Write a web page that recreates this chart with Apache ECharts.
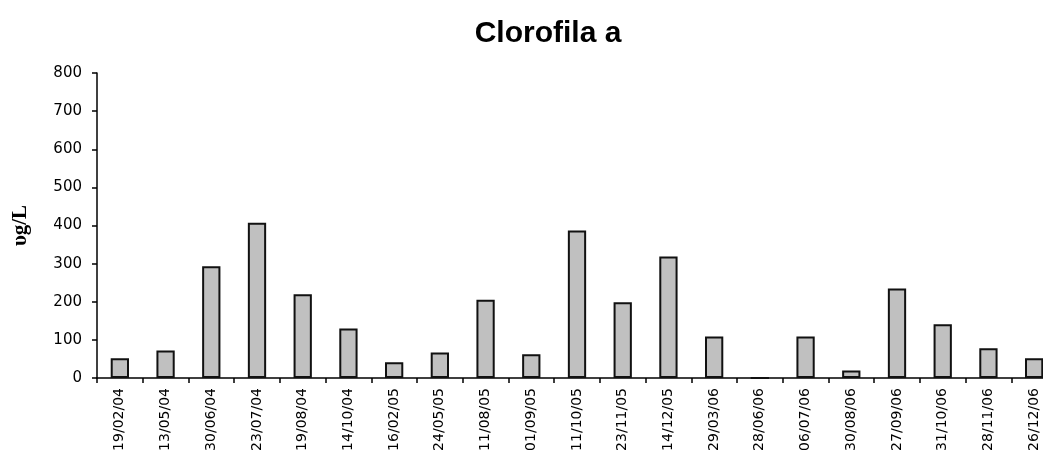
<!DOCTYPE html>
<html>
<head>
<meta charset="utf-8">
<script src="https://cdn.jsdelivr.net/npm/echarts@6/dist/echarts.min.js"></script>
<style>
html,body{margin:0;padding:0;background:#fff;overflow:hidden;width:1043px;height:459px;}
#chart{width:1060px;height:459px;}
</style>
</head>
<body>
<div id="chart"></div>
<script>
const categories = ['19/02/04','13/05/04','30/06/04','23/07/04','19/08/04','14/10/04','16/02/05','24/05/05','11/08/05','01/09/05','11/10/05','23/11/05','14/12/05','29/03/06','28/06/06','06/07/06','30/08/06','27/09/06','31/10/06','28/11/06','26/12/06'];
const clorofila = [52, 72, 293, 407, 220, 130, 41, 67, 205, 62, 387, 199, 319, 109, 0, 109, 20, 235, 141, 78, 52];
const yTicks = {min: 0, max: 800, interval: 100};

const chart = echarts.init(document.getElementById('chart'), null, {renderer: 'canvas'});
chart.setOption({
  animation: false,
  backgroundColor: '#ffffff',
  title: {
    text: 'Clorofila a',
    left: 543, top: 14, textAlign: 'center',
    textStyle: {fontFamily: 'Liberation Sans, Arial', fontWeight: 'bold', fontSize: 30, color: '#000'}
  },
  grid: {left: 97, top: 73, width: 960, height: 305, containLabel: false},
  xAxis: {
    type: 'category',
    data: categories,
    boundaryGap: true,
    axisLine: {lineStyle: {color: '#000', width: 1.5}},
    axisTick: {show: true, length: 5, lineStyle: {color: '#000', width: 1.5}},
    axisLabel: {rotate: 90, fontFamily: 'DejaVu Sans', fontSize: 14, color: '#000', margin: 10, interval: 0}
  },
  yAxis: {
    type: 'value',
    min: yTicks.min, max: yTicks.max, interval: yTicks.interval,
    name: 'υg/L',
    nameLocation: 'middle',
    nameGap: 66,
    nameRotate: 90,
    nameTextStyle: {fontFamily: 'Liberation Serif, Times New Roman', fontWeight: 'bold', fontSize: 21, color: '#000'},
    axisLine: {show: true, lineStyle: {color: '#000', width: 1.5}},
    axisTick: {show: true, length: 5, lineStyle: {color: '#000', width: 1.5}},
    splitLine: {show: false},
    axisLabel: {fontFamily: 'DejaVu Sans', fontSize: 15, color: '#000', margin: 15}
  },
  series: [{
    type: 'bar',
    data: clorofila,
    barWidth: '40%',
    itemStyle: {color: '#c0c0c0', borderColor: '#111', borderWidth: 2}
  }]
});
</script>
</body>
</html>
